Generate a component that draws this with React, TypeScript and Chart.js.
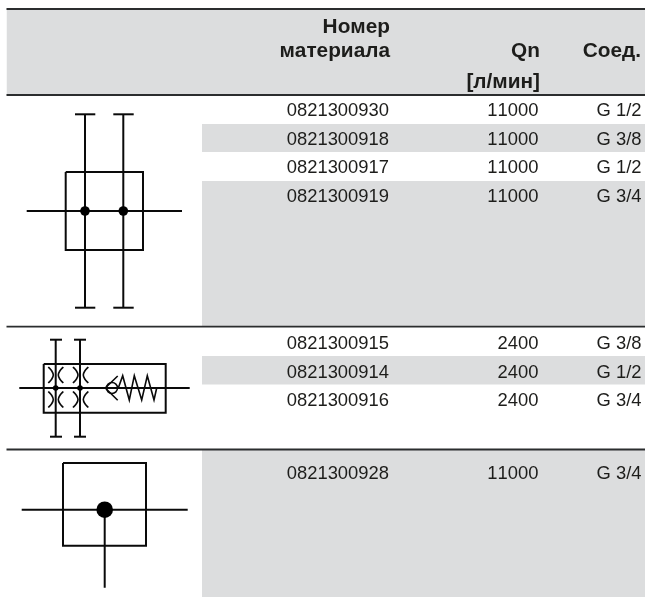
import React, { useEffect, useRef } from "react";
import { Chart, registerables } from "chart.js";

Chart.register(...registerables);

const WIDTH = 645;
const HEIGHT = 597;

// Table rows
const materialNumbers = ["0821300930", "0821300918", "0821300917", "0821300919", "0821300915", "0821300914", "0821300916", "0821300928"];
const flowValues = ["11000", "11000", "11000", "11000", "2400", "2400", "2400", "11000"];
const connections = ["G 1/2", "G 3/8", "G 1/2", "G 3/4", "G 3/8", "G 1/2", "G 3/4", "G 3/4"];
const rowBaselines = [115.5, 144.5, 173, 202, 348.5, 377.5, 406, 478.5];

// Table header
const headerTexts = ["Номер", "материала", "Qn", "[л/мин]", "Соед."];
const headerRight = [390, 390, 540, 540, 641];
const headerBaselines = [32.5, 57, 57, 87.5, 57];

// Column right edges
const columnRight = [389, 538.5, 641.5];

// Shaded bands: left, right, top, bottom
const bandLeft = [6.5, 202, 202, 202, 202];
const bandRight = [645, 645, 645, 645, 645];
const bandTop = [9, 124, 181, 356, 450];
const bandBottom = [95, 152, 326, 384.5, 597];

// Horizontal rules
const ruleY = [9, 95, 326.7, 449.5];
const ruleLeft = 6.5;
const ruleRight = 645;

// Symbol 1
const s1Box = { x: [65.7, 143, 143, 65.7, 65.7], y: [172, 172, 250, 250, 172] };
const s1H = { x: [26.7, 182], y: [211, 211] };
const s1V1 = { x: [85, 85], y: [114.3, 307.7] };
const s1V2 = { x: [123.3, 123.3], y: [114.3, 307.7] };
const s1Caps = [
  { x: [75, 95.3], y: [114.3, 114.3] },
  { x: [113.3, 133.7], y: [114.3, 114.3] },
  { x: [75, 95.3], y: [307.7, 307.7] },
  { x: [113.3, 133.7], y: [307.7, 307.7] },
];
const s1DotX = [85, 123.3];
const s1DotY = [211, 211];

// Symbol 2
const s2Box = { x: [43.7, 165.7, 165.7, 43.7, 43.7], y: [364, 364, 412.7, 412.7, 364] };
const s2H = { x: [19.3, 189.7], y: [388, 388] };
const s2V1 = { x: [55.7, 55.7], y: [339.7, 436.7] };
const s2V2 = { x: [80, 80], y: [339.7, 436.7] };
const s2Caps = [
  { x: [50, 62], y: [339.7, 339.7] },
  { x: [74, 86], y: [339.7, 339.7] },
  { x: [50, 62], y: [436.7, 436.7] },
  { x: [74, 86], y: [436.7, 436.7] },
];
const s2DotX = [55.7, 80];
const s2DotY = [388, 388];
const s2Arcs = [
  { x: [48.3, 51.8, 53.3, 51.8, 48.3], y: [367, 371, 375, 379, 383] },
  { x: [63.3, 59.8, 58.3, 59.8, 63.3], y: [367, 371, 375, 379, 383] },
  { x: [73, 76.5, 78, 76.5, 73], y: [367, 371, 375, 379, 383] },
  { x: [88.3, 84.8, 83.3, 84.8, 88.3], y: [367, 371, 375, 379, 383] },
  { x: [48.3, 51.8, 53.3, 51.8, 48.3], y: [391.5, 395.5, 399.5, 403.5, 407.5] },
  { x: [63.3, 59.8, 58.3, 59.8, 63.3], y: [391.5, 395.5, 399.5, 403.5, 407.5] },
  { x: [73, 76.5, 78, 76.5, 73], y: [391.5, 395.5, 399.5, 403.5, 407.5] },
  { x: [88.3, 84.8, 83.3, 84.8, 88.3], y: [391.5, 395.5, 399.5, 403.5, 407.5] },
];
const s2Seat = { x: [117.7, 105.3, 117.7], y: [376, 388, 400.3] };
const s2BallX = [112];
const s2BallY = [388];
const s2Spring = {
  x: [118.3, 122.7, 129.3, 134.3, 141.7, 147.3, 154, 156.7],
  y: [388, 375.7, 400, 375.7, 400, 375.7, 400, 388],
};

// Symbol 3
const s3Box = { x: [63, 146, 146, 63, 63], y: [463, 463, 545.7, 545.7, 463] };
const s3H = { x: [21.7, 187.7], y: [509.7, 509.7] };
const s3V = { x: [104.7, 104.7], y: [509.7, 587.7] };
const s3DotX = [104.7];
const s3DotY = [509.7];

const FONT = '"Liberation Sans", Arial, sans-serif';
const BAND = "#dcddde";
const RULE = "#2b2d2e";
const INK = "#0a0a0a";
const TEXT = "#1d1d1b";

type Poly = { x: number[]; y: number[] };
const pts = (p: Poly) => p.x.map((x, i) => ({ x, y: p.y[i] }));

const stroke = (p: Poly, width = 2, tension = 0, color = INK) => ({
  type: "line" as const,
  data: pts(p),
  borderColor: color,
  borderWidth: width,
  pointRadius: 0,
  tension,
  fill: false,
  order: 2,
  borderCapStyle: "butt" as const,
  clip: false,
});

const dots = (xs: number[], ys: number[], radius: number) => ({
  type: "scatter" as const,
  data: xs.map((x, i) => ({ x, y: ys[i] })),
  backgroundColor: "#000000",
  borderWidth: 0,
  pointRadius: radius,
  order: 1,
});

const ring = (xs: number[], ys: number[], radius: number) => ({
  type: "scatter" as const,
  data: xs.map((x, i) => ({ x, y: ys[i] })),
  backgroundColor: "rgba(0,0,0,0)",
  borderColor: INK,
  borderWidth: 1.5,
  pointBorderWidth: 1.5,
  pointRadius: radius,
  order: 1,
});

const tablePlugin = {
  id: "tableText",
  afterDatasetsDraw(chart: any) {
    const { ctx, scales } = chart;
    const sx = scales.x;
    const sy = scales.y;
    ctx.save();
    ctx.fillStyle = TEXT;
    ctx.textBaseline = "alphabetic";
    ctx.textAlign = "right";
    ctx.fontKerning = "none";
    ctx.font = `bold 20.8px ${FONT}`;
    headerTexts.forEach((t, i) => {
      ctx.fillText(t, sx.getPixelForValue(headerRight[i]), sy.getPixelForValue(headerBaselines[i]));
    });
    ctx.font = `18.4px ${FONT}`;
    rowBaselines.forEach((b, i) => {
      const y = sy.getPixelForValue(b);
      ctx.fillText(materialNumbers[i], sx.getPixelForValue(columnRight[0]), y);
      ctx.fillText(flowValues[i], sx.getPixelForValue(columnRight[1]), y);
      ctx.fillText(connections[i], sx.getPixelForValue(columnRight[2]), y);
    });
    ctx.restore();
  },
};

export default function App() {
  const ref = useRef<HTMLCanvasElement>(null);

  useEffect(() => {
    if (!ref.current) return;

    const bands = bandTop.map((top, i) => ({
      type: "line" as const,
      data: [
        { x: bandLeft[i], y: top },
        { x: bandRight[i], y: top },
      ],
      borderWidth: 0,
      borderColor: BAND,
      backgroundColor: BAND,
      pointRadius: 0,
      fill: { target: { value: bandBottom[i] } },
      order: 10,
    }));

    const rules = ruleY.map((y) => ({
      ...stroke({ x: [ruleLeft, ruleRight], y: [y, y] }, 1.8, 0, RULE),
      order: 5,
    }));

    const chart = new Chart(ref.current, {
      type: "line",
      data: {
        datasets: [
          ...bands,
          ...rules,
          stroke(s1Box),
          stroke(s1H),
          stroke(s1V1),
          stroke(s1V2),
          ...s1Caps.map((c) => stroke(c)),
          dots(s1DotX, s1DotY, 4.8),
          stroke(s2Box),
          stroke(s2H),
          stroke(s2V1),
          stroke(s2V2),
          ...s2Caps.map((c) => stroke(c)),
          ...s2Arcs.map((a) => stroke(a, 1.6, 0.4)),
          stroke(s2Seat, 1.6),
          ring(s2BallX, s2BallY, 5.5),
          stroke(s2Spring, 1.6),
          dots(s2DotX, s2DotY, 2.8),
          stroke(s3Box),
          stroke(s3H),
          stroke(s3V),
          dots(s3DotX, s3DotY, 8.3),
        ] as any,
      },
      options: {
        animation: false,
        responsive: false,
        devicePixelRatio: 1,
        layout: { padding: 0, autoPadding: false },
        events: [],
        scales: {
          x: { type: "linear", min: 0, max: WIDTH, display: false },
          y: { type: "linear", min: 0, max: HEIGHT, reverse: true, display: false },
        },
        plugins: { legend: { display: false }, tooltip: { enabled: false }, title: { display: false } },
      },
      plugins: [tablePlugin],
    });
    return () => chart.destroy();
  }, []);

  return (
    <div style={{ position: "absolute", left: 0, top: 0, width: WIDTH, height: HEIGHT, background: "#ffffff" }}>
      <canvas ref={ref} width={WIDTH} height={HEIGHT} style={{ display: "block" }} />
    </div>
  );
}
